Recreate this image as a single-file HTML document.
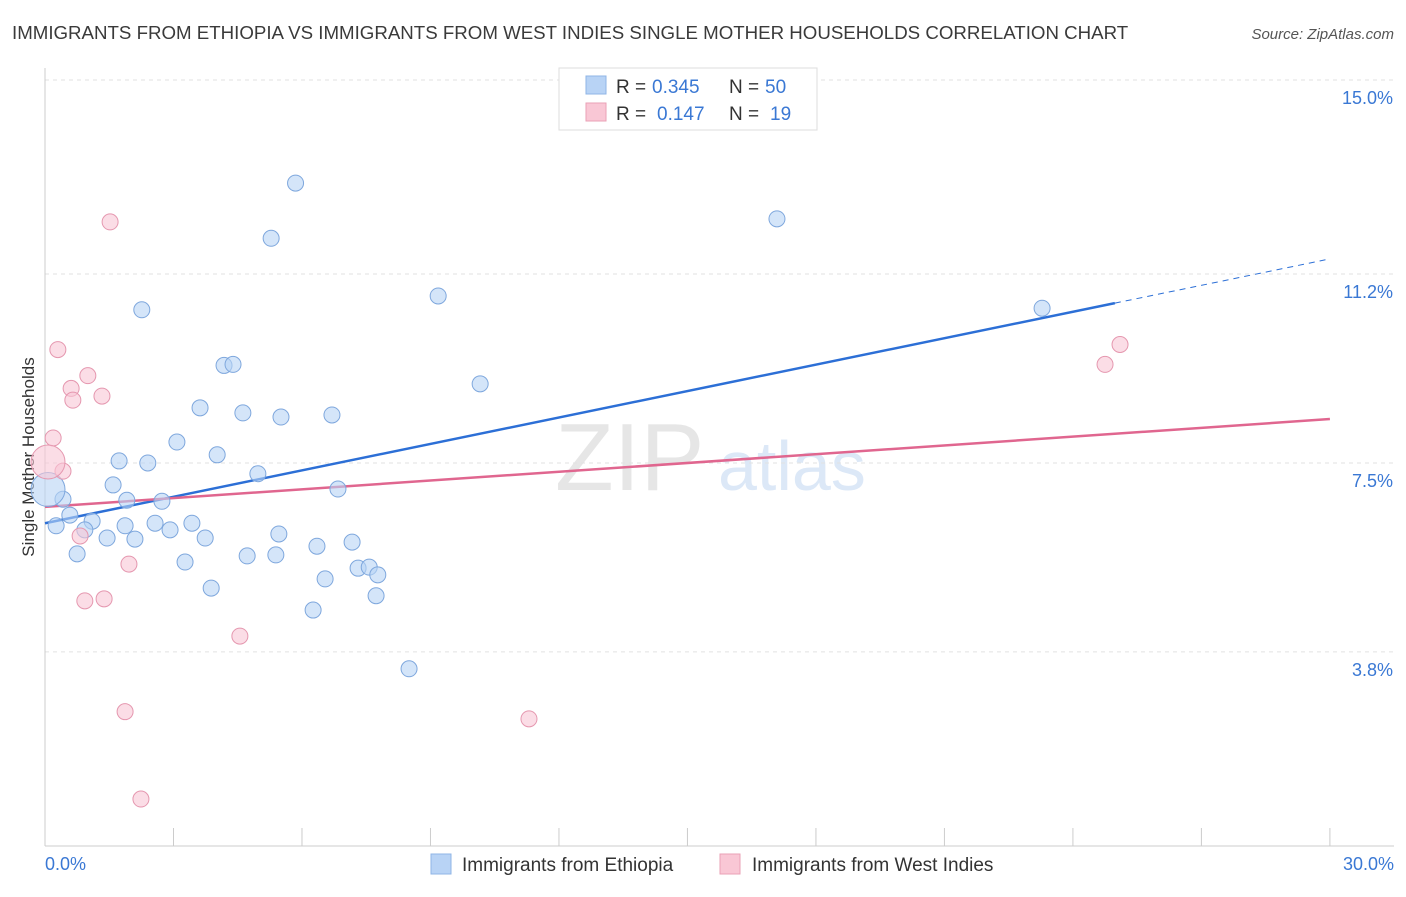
<!DOCTYPE html>
<html><head><meta charset="utf-8"><style>
body{margin:0;background:#fff;font-family:"Liberation Sans",sans-serif;}
svg text{font-family:"Liberation Sans",sans-serif;}
</style></head><body>
<svg id="chart" width="1406" height="892" viewBox="0 0 1406 892" xmlns="http://www.w3.org/2000/svg">
<text x="12" y="39" font-size="18.7" fill="#3a3a3a">IMMIGRANTS FROM ETHIOPIA VS IMMIGRANTS FROM WEST INDIES SINGLE MOTHER HOUSEHOLDS CORRELATION CHART</text>
<text x="1394" y="39" font-size="15" fill="#555" font-style="italic" text-anchor="end">Source: ZipAtlas.com</text>
<text x="555" y="490" font-size="96" fill="#e6e6e6" font-family="Liberation Serif">ZIP</text>
<text x="718" y="490" font-size="70" fill="#dce8f7">atlas</text>
<g id="grid"></g>
<g id="axes"></g>
<text transform="translate(34,457) rotate(-90)" font-size="17" fill="#333" text-anchor="middle">Single Mother Households</text>
<g id="lines"></g>
<g id="points"></g>
<g>
<rect x="559" y="68" width="258" height="62" fill="#fff" stroke="#ddd"/>
<rect x="586" y="76" width="20" height="18" fill="#b8d3f5" stroke="#8fb4e6"/>
<text x="616" y="93" font-size="19" fill="#333">R =</text>
<text x="652" y="93" font-size="19" fill="#3a78d4">0.345</text>
<text x="729" y="93" font-size="19" fill="#333">N =</text>
<text x="765" y="93" font-size="19" fill="#3a78d4">50</text>
<rect x="586" y="103" width="20" height="18" fill="#f9c7d5" stroke="#eaa0b6"/>
<text x="616" y="120" font-size="19" fill="#333">R =</text>
<text x="657" y="120" font-size="19" fill="#3a78d4">0.147</text>
<text x="729" y="120" font-size="19" fill="#333">N =</text>
<text x="770" y="120" font-size="19" fill="#3a78d4">19</text>
</g>
<g>
<rect x="431" y="854" width="20" height="20" fill="#b8d3f5" stroke="#8fb4e6"/>
<text x="462" y="871" font-size="19" fill="#333">Immigrants from Ethiopia</text>
<rect x="720" y="854" width="20" height="20" fill="#f9c7d5" stroke="#eaa0b6"/>
<text x="752" y="871" font-size="19" fill="#333">Immigrants from West Indies</text>
</g>
</svg>
<script>
const yTicks=[3.8,7.5,11.2,15.0];
const yTickLabels=["3.8%","7.5%","11.2%","15.0%"];
const xTicks=[0,3,6,9,12,15,18,21,24,27,30];
const blueX=[5.85,5.28,17.09,2.26,9.18,23.28,4.18,4.39,10.16,3.62,4.62,5.51,6.70,3.08,4.02,1.73,2.40,4.97,1.59,6.84,0.42,1.91,2.73,0.58,1.10,2.57,3.43,1.87,2.92,0.26,0.93,5.46,1.45,2.10,3.74,7.17,6.35,0.75,4.72,5.39,3.27,7.31,7.57,7.77,6.54,3.88,7.73,6.26,8.50,0.07];
const blueY=[12.98,11.90,12.28,10.50,10.77,10.53,9.41,9.43,9.05,8.58,8.48,8.40,8.44,7.91,7.66,7.54,7.50,7.29,7.07,6.99,6.79,6.77,6.75,6.48,6.36,6.32,6.32,6.27,6.19,6.27,6.19,6.11,6.03,6.01,6.03,5.95,5.87,5.72,5.68,5.70,5.56,5.44,5.46,5.31,5.23,5.05,4.90,4.62,3.47,6.98];
const pinkX=[1.52,0.30,1.00,0.61,0.65,1.33,0.19,0.42,0.07,0.82,1.96,0.93,1.38,4.55,1.87,11.30,2.24,24.75,25.10];
const pinkY=[12.22,9.72,9.21,8.96,8.73,8.81,7.99,7.34,7.52,6.07,5.52,4.80,4.84,4.11,2.63,2.49,0.92,9.43,9.82];
const blueLine=[[0,6.32],[24.98,10.63]];
const pinkLine=[[0,6.64],[30,8.36]];
const X=v=>45+v*42.83, Y=v=>846-v*51.07;
const NS="http://www.w3.org/2000/svg";
function mk(parent,tag,attrs){const e=document.createElementNS(NS,tag);for(const k in attrs)e.setAttribute(k,attrs[k]);document.getElementById(parent).appendChild(e);return e;}
yTicks.forEach((t,i)=>{
 const l=mk('grid','line',{x1:45,x2:1394,y1:Y(t),y2:Y(t),stroke:'#e2e2e2','stroke-dasharray':'4,4'});
 
 
 const tx=mk('axes','text',{x:1393,y:Y(t)+24,'font-size':18,fill:'#3a78d4','text-anchor':'end'});
 tx.textContent=yTickLabels[i];
 
 
});
const topGrid=mk('grid','line',{x1:45,x2:1394,y1:80,y2:80,stroke:'#e2e2e2','stroke-dasharray':'4,4'});


const ya=mk('axes','line',{x1:45,x2:45,y1:68,y2:846,stroke:'#ccc'});


const xa=mk('axes','line',{x1:45,x2:1394,y1:846,y2:846,stroke:'#ccc'});


xTicks.forEach(t=>{const l=mk('axes','line',{x1:X(t),x2:X(t),y1:828,y2:846,stroke:'#ccc'});
 
 });
const xl0=mk('axes','text',{x:45,y:870,'font-size':18,fill:'#3a78d4'});xl0.textContent='0.0%';


const xl1=mk('axes','text',{x:1394,y:870,'font-size':18,fill:'#3a78d4','text-anchor':'end'});xl1.textContent='30.0%';


function pts(xs,ys,fill,stroke,name){xs.forEach((x,i)=>{const big=(i===xs.length-1&&name==='blue')||(name==='pink'&&i===8);
 const c=mk('points','circle',{cx:X(x),cy:Y(ys[i]),r:big?17:8,fill:fill,'fill-opacity':0.6,stroke:stroke,'stroke-width':1});
 
 });}
pts(blueX,blueY,'#b8d3f5','#7ea7dd','blue');
pts(pinkX,pinkY,'#f9c7d5','#e597af','pink');
const bl=mk('lines','line',{x1:X(blueLine[0][0]),y1:Y(blueLine[0][1]),x2:X(blueLine[1][0]),y2:Y(blueLine[1][1]),stroke:'#2c6fd6','stroke-width':2.5});


const sl=(blueLine[1][1]-blueLine[0][1])/(blueLine[1][0]-blueLine[0][0]);
const bd=mk('lines','line',{x1:X(blueLine[1][0]),y1:Y(blueLine[1][1]),x2:X(30),y2:Y(blueLine[0][1]+sl*30),stroke:'#2c6fd6','stroke-width':1,'stroke-dasharray':'6,5'});


const pl=mk('lines','line',{x1:X(pinkLine[0][0]),y1:Y(pinkLine[0][1]),x2:X(pinkLine[1][0]),y2:Y(pinkLine[1][1]),stroke:'#e0668f','stroke-width':2.5});


</script>
</body></html>
